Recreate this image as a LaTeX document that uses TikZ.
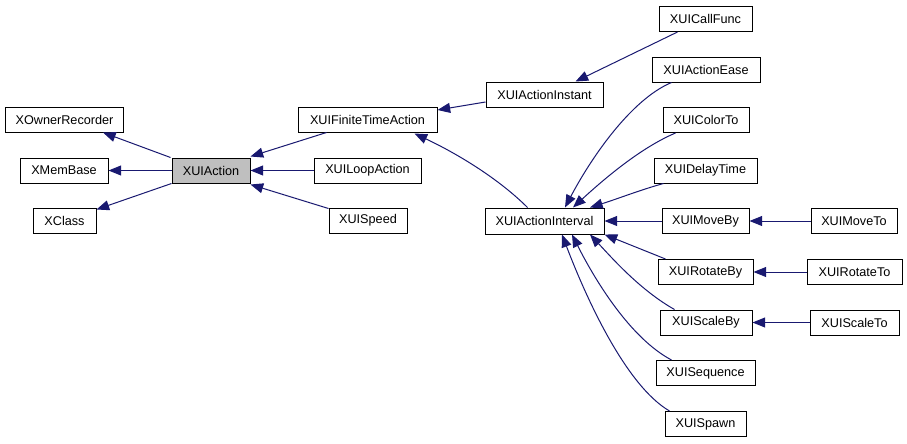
\documentclass[tikz,border=0pt]{standalone}
\usepackage{fontspec}
\setmainfont{Liberation Sans}
\usetikzlibrary{arrows.meta,calc}
\definecolor{edgec}{HTML}{191970}
\definecolor{grayfill}{HTML}{BFBFBF}
\begin{document}
\begin{tikzpicture}[x=0.75pt,y=-0.75pt,
  cls/.style={draw=black,line width=0.75pt,fill=white,minimum height=25*0.75pt,minimum width=#1*0.75pt,inner sep=0pt,font=\fontsize{9.5}{11.4}\selectfont},
  edge/.style={draw=edgec,line width=0.75pt,{Triangle[length=9.5pt,width=7.5pt]}-}]
\useasboundingbox (0,0) rectangle (907,443);
% nodes
\node[cls=118] (XOwnerRecorder) at (64.5,119.5) {XOwnerRecorder};
\node[cls=88] (XMemBase) at (64,170.5) {XMemBase};
\node[cls=63] (XClass) at (64.5,220.5) {XClass};
\node[cls=78,fill=grayfill] (XUIAction) at (211,170.5) {XUIAction};
\node[cls=139] (XUIFiniteTimeAction) at (367.5,119.5) {XUIFiniteTimeAction};
\node[cls=107] (XUILoopAction) at (367.5,170.5) {XUILoopAction};
\node[cls=78] (XUISpeed) at (368,220.5) {XUISpeed};
\node[cls=117] (XUIActionInstant) at (544.5,94.5) {XUIActionInstant};
\node[cls=119,minimum height=26*0.75pt] (XUIActionInterval) at (544.5,221) {XUIActionInterval};
\node[cls=93] (XUICallFunc) at (705.5,19) {XUICallFunc};
\node[cls=108] (XUIActionEase) at (706,69.5) {XUIActionEase};
\node[cls=86] (XUIColorTo) at (706,120) {XUIColorTo};
\node[cls=103] (XUIDelayTime) at (705.5,170.5) {XUIDelayTime};
\node[cls=87] (XUIMoveBy) at (705.5,221) {XUIMoveBy};
\node[cls=86] (XUIMoveTo) at (854,221) {XUIMoveTo};
\node[cls=95] (XUIRotateBy) at (705.5,272) {XUIRotateBy};
\node[cls=95] (XUIRotateTo) at (854.5,272) {XUIRotateTo};
\node[cls=92] (XUIScaleBy) at (706,322.5) {XUIScaleBy};
\node[cls=89] (XUIScaleTo) at (854.5,322.5) {XUIScaleTo};
\node[cls=99] (XUISequence) at (705.5,373) {XUISequence};
\node[cls=81] (XUISpawn) at (705.5,424) {XUISpawn};
% edges (tip at parent)
\draw[edge] ($(XOwnerRecorder.south)+(38.5,0)$) -- ($(XUIAction.north west)+(-1,0)$);
\draw[edge] (XMemBase.east) -- (XUIAction.west);
\draw[edge] ($(XClass.north east)+(0,2)$) -- (XUIAction.south west);
\draw[edge] ($(XUIAction.north east)+(0,-1)$) -- ($(XUIFiniteTimeAction.south west)+(29,0)$);
\draw[edge] (XUIAction.east) -- (XUILoopAction.west);
\draw[edge] ($(XUIAction.south east)+(0,1)$) -- ($(XUISpeed.north west)+(0,1)$);
\draw[edge] ($(XUIFiniteTimeAction.east)+(0,-9.5)$) -- ($(XUIActionInstant.west)+(0,7.5)$);
\draw[edge] ($(XUIFiniteTimeAction.south)+(47,1)$) .. controls (460,155) and (500,180) .. ($(XUIActionInterval.north)+(-17,0)$);
\draw[edge] ($(XUIActionInstant.north east)+(-28,0)$) -- ($(XUICallFunc.south west)+(19,0)$);
\draw[edge] ($(XUIActionInterval.north)+(20.5,0)$) .. controls (590,160) and (630,100) .. ($(XUIActionEase.south west)+(20,0)$);
\draw[edge] ($(XUIActionInterval.north)+(28.5,0)$) .. controls (603,180) and (640,148) .. ($(XUIColorTo.south west)+(13,0)$);
\draw[edge] ($(XUIActionInterval.north)+(45.5,0)$) .. controls (620,198) and (640,190) .. ($(XUIDelayTime.south west)+(10,0)$);
\draw[edge] (XUIActionInterval.east) -- (XUIMoveBy.west);
\draw[edge] (XUIActionInterval.south east) -- ($(XUIRotateBy.north west)+(8,0)$);
\draw[edge] ($(XUIActionInterval.south)+(45.5,0)$) .. controls (612,258) and (640,290) .. ($(XUIScaleBy.north west)+(15,0)$);
\draw[edge] ($(XUIActionInterval.south)+(27.5,0)$) .. controls (595,280) and (630,338) .. ($(XUISequence.north west)+(16,0)$);
\draw[edge] ($(XUIActionInterval.south)+(17.5,0)$) .. controls (585,295) and (625,385) .. ($(XUISpawn.north west)+(5,0)$);
\draw[edge] (XUIMoveBy.east) -- (XUIMoveTo.west);
\draw[edge] (XUIRotateBy.east) -- (XUIRotateTo.west);
\draw[edge] (XUIScaleBy.east) -- (XUIScaleTo.west);
\end{tikzpicture}
\end{document}
